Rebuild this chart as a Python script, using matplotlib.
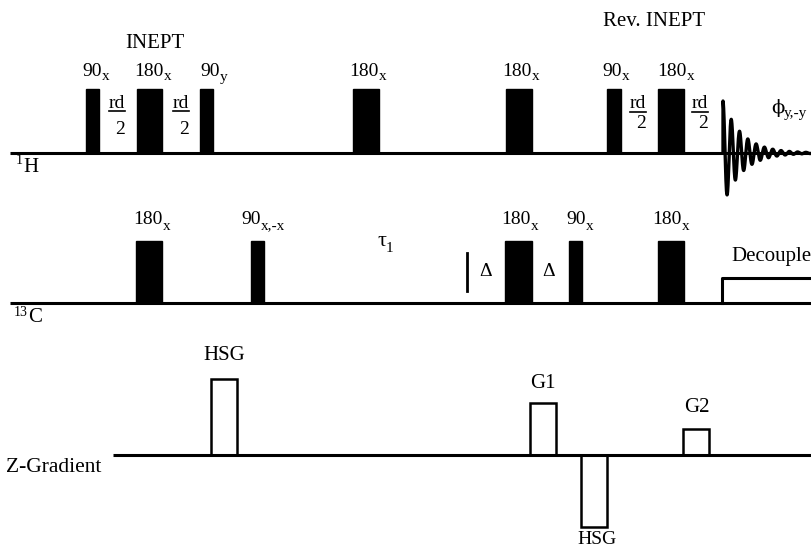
import numpy as np
import matplotlib.pyplot as plt

plt.rcParams['font.family'] = ['Liberation Serif', 'DejaVu Serif']

# 1H channel pulses (left edge, width), top height
h_base = 153
h_left = [86, 137, 200, 353, 506, 607, 658]
h_width = [13, 25, 13, 26, 26, 14, 26]
h_height = 64
h_labels = [('90', 'x', 82), ('180', 'x', 134), ('90', 'y', 200), ('180', 'x', 349),
            ('180', 'x', 502), ('90', 'x', 602), ('180', 'x', 657)]

# 13C channel
c_base = 303
c_left = [136, 251, 505, 569, 658]
c_width = [26, 13, 27, 13, 26]
c_height = 62
c_labels = [('180', 'x', 133), ('90', 'x,-x', 241), ('180', 'x', 501),
            ('90', 'x', 566), ('180', 'x', 652)]
dec_start, dec_end, dec_height = 722, 812, 25

# Z gradient
g_base = 455
g_left = [211, 530, 581, 683]
g_width = [26, 26, 26, 26]
g_height = [76, 52, -72, 26]
g_labels = [('HSG', 224, 355), ('G1', 543, 384), ('HSG', 597, 539), ('G2', 697, 408)]

# FID shape
fid_start, fid_amp, fid_period, fid_decay = 723, 52, 8.3, 19.0

fig = plt.figure(figsize=(8.12, 5.48), dpi=100)
ax = fig.add_axes([0, 0, 1, 1])
ax.set_xlim(0, 812)
ax.set_ylim(548, 0)
ax.axis('off')
renderer = fig.canvas.get_renderer()


def script_text(x, y, main, small, fs=14, sfs=11, dy=6, family=None):
    # main text followed by a lowered (dy>0) or raised (dy<0) small text
    kw = {'family': family} if family else {}
    t = ax.text(x, y, main, fontsize=fs, ha='left', va='center', **kw)
    bb = t.get_window_extent(renderer)
    x1 = ax.transData.inverted().transform((bb.x1, bb.y0))[0]
    ax.text(x1, y + dy, small, fontsize=sfs, ha='left', va='center')


def pre_script(x, y, small, main, fs=15, sfs=10, dy=-6):
    t = ax.text(x, y + dy, small, fontsize=sfs, ha='left', va='center')
    bb = t.get_window_extent(renderer)
    x1 = ax.transData.inverted().transform((bb.x1, bb.y0))[0]
    ax.text(x1, y, main, fontsize=fs, ha='left', va='center')


# 1H
ax.plot([10, 812], [h_base, h_base], color='black', lw=2.2, solid_capstyle='butt')
ax.bar(h_left, [-h_height] * len(h_left), width=h_width, bottom=h_base,
       align='edge', color='black', edgecolor='black')
for a, b, x in h_labels:
    script_text(x, 71, a, b)
ax.text(155, 44, 'INEPT', fontsize=15, ha='center', va='center')
ax.text(654, 22, 'Rev. INEPT', fontsize=15, ha='center', va='center')
for xr, x2, yr, y2 in [(117, 120, 103, 127), (181, 184, 103, 127),
                       (638, 641, 104, 122), (700, 703, 104, 122)]:
    ax.text(xr, yr, 'rd', fontsize=14, ha='center', va='center')
    ax.plot([xr - 8, xr + 8], [yr + 8, yr + 8], color='black', lw=1.2)
    ax.text(x2, y2 + 2, '2', fontsize=14, ha='center', va='center')
script_text(771, 108, 'ϕ', 'y,-y', fs=14, sfs=11, dy=5, family='DejaVu Serif')
pre_script(16, 167, '1', 'H')

t = np.linspace(0, 812 - fid_start, 2000)
fid = -fid_amp * np.exp(-t / fid_decay) * np.cos(2 * np.pi * t / fid_period)
ax.plot(np.r_[fid_start, fid_start + t], np.r_[h_base, h_base + fid], color='black', lw=2.4)

# 13C
ax.plot([10, 812], [c_base, c_base], color='black', lw=2.2, solid_capstyle='butt')
ax.bar(c_left, [-c_height] * len(c_left), width=c_width, bottom=c_base,
       align='edge', color='black', edgecolor='black')
for a, b, x in c_labels:
    script_text(x, 220, a, b)
ax.plot([dec_start, dec_start, dec_end], [c_base, c_base - dec_height, c_base - dec_height],
        color='black', lw=2.2)
ax.text(731, 256, 'Decouple', fontsize=15, ha='left', va='center')
script_text(377, 241, 'τ', '1', fs=16, sfs=11, dy=7)
ax.plot([467, 467], [253, 291], color='black', lw=2)
ax.text(486, 272, 'Δ', fontsize=14, ha='center', va='center')
ax.text(549, 272, 'Δ', fontsize=14, ha='center', va='center')
pre_script(14, 318, '13', 'C')

# Z gradient
ax.bar(g_left, [-h for h in g_height], width=g_width, bottom=g_base,
       align='edge', color='white', edgecolor='black', linewidth=1.8, zorder=3)
ax.plot([113, 812], [g_base, g_base], color='black', lw=2.2, solid_capstyle='butt', zorder=4)
for i, (s, x, y) in enumerate(g_labels):
    ax.text(x, y, s, fontsize=14 if i == 2 else 15, ha='center', va='center')
ax.text(6, 467, 'Z-Gradient', fontsize=15.5, ha='left', va='center')

fig.savefig('out.png', dpi=100)
